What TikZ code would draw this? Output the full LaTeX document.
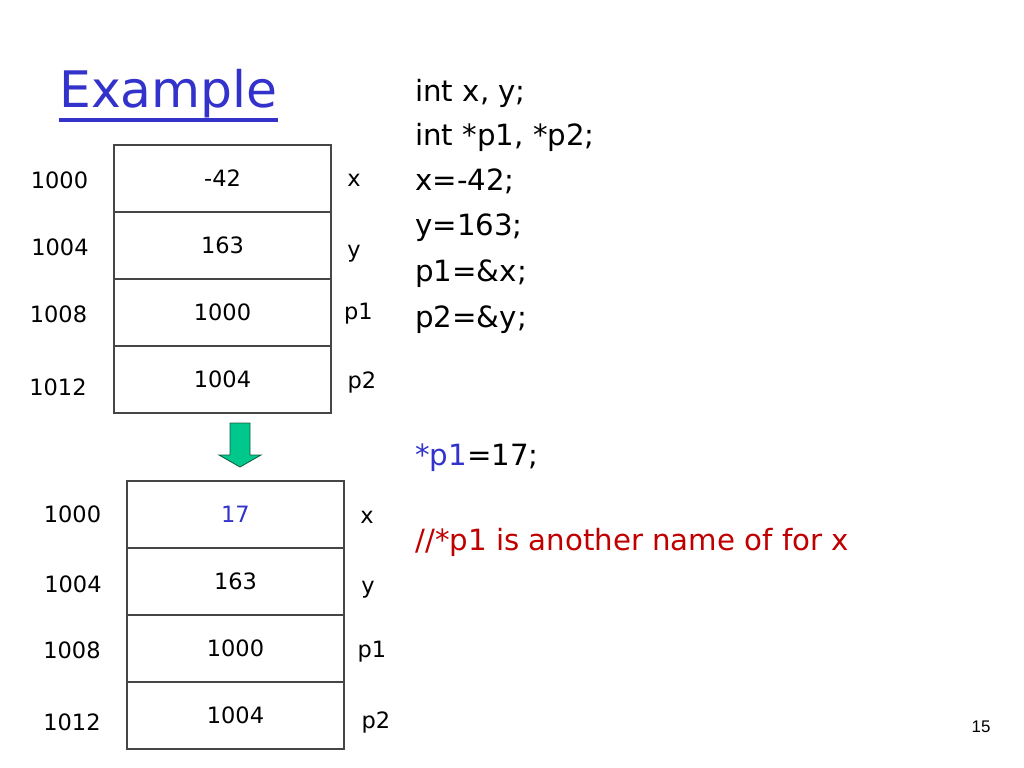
\documentclass[tikz,border=0pt]{standalone}
\usepackage{fontspec}
\setmainfont{DejaVu Sans}
\newfontfamily\pagefont{Liberation Sans}
\definecolor{titleblue}{RGB}{51,51,204}
\definecolor{codered}{RGB}{192,0,0}
\definecolor{arrowgreen}{RGB}{0,200,140}
\definecolor{arrowedge}{RGB}{20,90,70}
\definecolor{boxline}{RGB}{70,70,70}
\tikzset{
  cell/.style={draw=boxline, line width=1.42pt, minimum width=5.425cm, minimum height=1.675cm, inner sep=0pt, anchor=center, font=\fontsize{16pt}{18pt}\selectfont},
  addr/.style={inner sep=0pt, anchor=center, font=\fontsize{16pt}{18pt}\selectfont},
  vname/.style={inner sep=0pt, anchor=center, font=\fontsize{16pt}{18pt}\selectfont},
  code/.style={inner sep=0pt, anchor=base west, font=\fontsize{20.8pt}{24pt}\selectfont},
}
\begin{document}
\begin{tikzpicture}[x=0.025cm, y=-0.025cm]
\useasboundingbox (0,0) rectangle (1024,768);
\fill[white] (0,0) rectangle (1024,768);
% title
\node[inner sep=0pt, anchor=base west, text=titleblue, font=\fontsize{35.8pt}{40pt}\selectfont] (title) at (59,108) {Example};
\draw[titleblue, line width=2.6pt] (title.west |- 0,120) -- (title.east |- 0,120);
% upper memory
\node[cell] (u1) at (222.5,178.5) {-42};
\node[cell] (u2) at (222.5,245.5) {163};
\node[cell] (u3) at (222.5,312.5) {1000};
\node[cell] (u4) at (222.5,379.5) {1004};
\node[addr] (ua1) at (59.5,180) {1000};
\node[addr] (ua2) at (60,247) {1004};
\node[addr] (ua3) at (58.5,314) {1008};
\node[addr] (ua4) at (58,387) {1012};
\node[vname] (un1) at (354,180) {x};
\node[vname] (un2) at (354,254) {y};
\node[vname] (un3) at (358.5,314) {p1};
\node[vname] (un4) at (362,382) {p2};
% green arrow
\filldraw[fill=arrowgreen, draw=arrowedge, line width=0.6pt]
  (230,423) -- (250,423) -- (250,455) -- (261,455) -- (240,467) -- (219,455) -- (230,455) -- cycle;
% lower memory
\node[cell] (l1) at (235.5,514.5) {\textcolor{titleblue}{17}};
\node[cell] (l2) at (235.5,581.5) {163};
\node[cell] (l3) at (235.5,648.5) {1000};
\node[cell] (l4) at (235.5,715) {1004};
\node[addr] (la1) at (72.5,514) {1000};
\node[addr] (la2) at (73,584) {1004};
\node[addr] (la3) at (72,650) {1008};
\node[addr] (la4) at (72,722) {1012};
\node[vname] (ln1) at (367,517) {x};
\node[vname] (ln2) at (368,590) {y};
\node[vname] (ln3) at (372,652) {p1};
\node[vname] (ln4) at (376,722) {p2};
% code
\node[code] (c1) at (415,102) {int x, y;};
\node[code] (c2) at (415,146) {int *p1, *p2;};
\node[code] (c3) at (415,190) {x=-42;};
\node[code] (c4) at (415,235) {y=163;};
\node[code] (c5) at (415,281) {p1=\&x;};
\node[code] (c6) at (415,327) {p2=\&y;};
\node[code] (c7) at (415,465) {\textcolor{titleblue}{*p1}=17;};
\node[code, text=codered] (c8) at (415,550) {//*p1 is another name of for x};
% page number
\node[inner sep=0pt, anchor=center, font=\pagefont\fontsize{12pt}{14pt}\selectfont] (pg) at (981,727) {15};
\end{tikzpicture}
\end{document}
